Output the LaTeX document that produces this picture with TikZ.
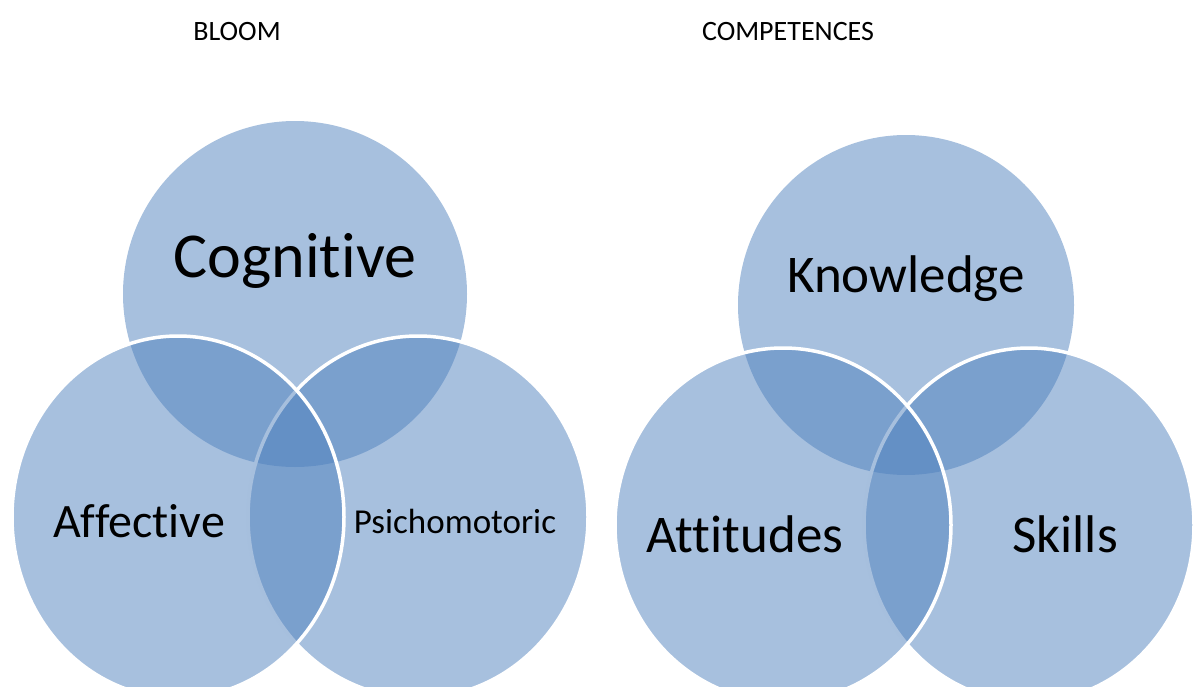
\documentclass[tikz,border=0pt]{standalone}
\usepackage{fontspec}
\setmainfont{Carlito}[Ligatures={NoCommon}]
\usetikzlibrary{shapes.geometric}
\definecolor{vennblue}{RGB}{79,129,189}
\tikzstyle{venncircle}=[ellipse,fill=vennblue,fill opacity=0.5,inner sep=0pt,outer sep=0pt]
\tikzstyle{rimmed}=[draw=white,line width=3.5pt]
\tikzstyle{plain}=[]
\tikzstyle{setname}=[anchor=base,inner sep=0pt,text=black]

\begin{document}
\begin{tikzpicture}[x=1pt,y=-1pt]
    \useasboundingbox (0,0) rectangle (1194,686);
    \clip (0,0) rectangle (1194,686);

    % headings
    \node[setname] (bloom) at (237,40) {\fontsize{28}{30}\selectfont BLOOM};
    \node[setname] (comp) at (788,40) {\fontsize{28}{30}\selectfont COMPETENCES};

    % BLOOM circles, top one first, lower right before lower left
    \foreach \pos/ \name/ \wd/ \ht/ \rim in {{(295,294)/cog/344/346/plain}, {(418,517)/psy/340/362/rimmed}, {(178,517)/aff/332/362/rimmed}}
        \node[venncircle,\rim,minimum width=\wd pt,minimum height=\ht pt] (\name) at \pos {};

    % competence circles
    \foreach \pos/ \name/ \wd/ \ht/ \rim in {{(906,305)/know/336/340/plain}, {(1029,525)/skill/330/354/rimmed}, {(783,525)/att/336/354/rimmed}}
        \node[venncircle,\rim,minimum width=\wd pt,minimum height=\ht pt] (\name) at \pos {};

    \node[setname] (cogtxt) at (295,277) {\fontsize{64}{70}\selectfont Cognitive};
    \node[setname] (afftxt) at (139,537) {\fontsize{48}{52}\selectfont Affective};
    \node[setname] (psytxt) at (455,533) {\fontsize{35}{40}\selectfont Psichomotoric};

    \node[setname] (knowtxt) at (906,292) {\fontsize{53}{58}\selectfont Knowledge};
    \node[setname] (atttxt) at (745,552) {\fontsize{53}{58}\selectfont Attitudes};
    \node[setname] (skilltxt) at (1065,552) {\fontsize{53}{58}\selectfont Skills};

\end{tikzpicture}
\end{document}
